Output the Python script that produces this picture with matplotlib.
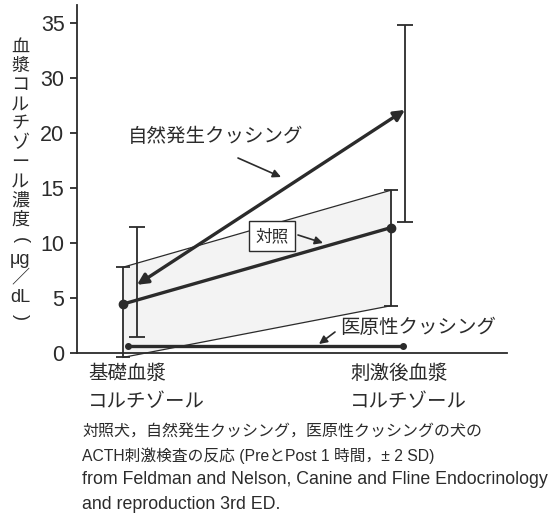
import matplotlib
matplotlib.use("Agg")
import matplotlib.pyplot as plt

plt.rcParams['font.family'] = ['Liberation Sans', 'Noto Sans CJK JP', 'DejaVu Sans']

# values in axis units (the axis is drawn with the labels printed in the source)
stages = ["基礎血漿\nコルチゾール", "刺激後血漿\nコルチゾール"]
ytick_vals = [0, 5, 10, 15, 20, 25, 30]
ytick_labels = ["0", "5", "10", "15", "20", "30", "35"]

ctrl_mean = [4.45, 11.4]
ctrl_upper = [7.8, 14.8]
ctrl_lower = [-0.4, 4.3]

nat_mean = [6.2, 22.1]
nat_upper = [11.45, 29.8]
nat_lower = [1.45, 11.9]

iat_mean = [0.6, 0.6]

ylabel_chars = ["血", "漿", "コ", "ル", "チ", "ゾ", "ー", "ル", "濃", "度",
                "(", "μg", "／", "dL", ")"]
caption = ["対照犬，自然発生クッシング，医原性クッシングの犬の",
           "ACTH刺激検査の反応 (PreとPost 1 時間，± 2 SD)",
           "from Feldman and Nelson, Canine and Fline Endocrinology",
           "and reproduction 3rd ED."]
caption_size = [11.5, 11.3, 12.8, 12.8]

W, H = 559, 519
ink = '#2b2b2b'

fig = plt.figure(figsize=(W / 100, H / 100), dpi=100)
ax = fig.add_axes([77 / W, (H - 353) / H, 430 / W, 348 / H])


def px(x, y):
    return (x, H - y)


x_pre, x_post = 0.0, 1.0
ctrl_x = [x_pre - 0.026, x_post - 0.026]
nat_x = [x_pre + 0.026, x_post + 0.026]
iat_x = [x_pre - 0.007, x_post + 0.019]

# control band
ax.fill_between(ctrl_x, ctrl_lower, ctrl_upper, color='#f3f3f3', lw=0, zorder=0)
ax.plot(ctrl_x, ctrl_upper, color=ink, lw=0.9, clip_on=False)
ax.plot(ctrl_x, ctrl_lower, color=ink, lw=0.9, clip_on=False)
yerr = [[m - lo for m, lo in zip(ctrl_mean, ctrl_lower)],
        [hi - m for m, hi in zip(ctrl_mean, ctrl_upper)]]
eb = ax.errorbar(ctrl_x, ctrl_mean, yerr=yerr, color=ink, lw=2.4, elinewidth=1.3,
                 capsize=5, capthick=1.3, marker='o', ms=6, zorder=3)
for art in eb.get_children():
    art.set_clip_on(False)

# natural cushing
yerr = [[m - lo for m, lo in zip(nat_mean, nat_lower)],
        [hi - m for m, hi in zip(nat_mean, nat_upper)]]
eb = ax.errorbar(nat_x, nat_mean, yerr=yerr, color=ink, lw=0, elinewidth=1.3,
                 capsize=6, capthick=1.3, fmt='none', zorder=3)
ax.annotate('', xy=(nat_x[1], nat_mean[1]), xytext=(nat_x[0], nat_mean[0]),
            arrowprops=dict(arrowstyle='<|-|>', lw=2.4, color=ink,
                            mutation_scale=16, shrinkA=0, shrinkB=0), zorder=4)

# iatrogenic cushing
ax.plot(iat_x, iat_mean, color=ink, lw=2.4, marker='o', ms=4, zorder=3)

ax.set_xlim(-53 / 268, 377 / 268)
ax.set_ylim(0, 348 / 11)
ax.set_yticks(ytick_vals)
ax.set_yticklabels(ytick_labels, fontsize=15.5, color=ink)
ax.set_xticks([])
for s in ['top', 'right']:
    ax.spines[s].set_visible(False)
for s in ['left', 'bottom']:
    ax.spines[s].set_color(ink)
    ax.spines[s].set_linewidth(1.3)
ax.tick_params(axis='y', length=5, width=1.3, color=ink, pad=4)

# category labels
fig.text(88 / W, 1 - 388 / H, stages[0], fontsize=14, color=ink, va='center',
         ha='left', linespacing=1.75)
fig.text(350 / W, 1 - 388 / H, stages[1], fontsize=14, color=ink, va='center',
         ha='left', linespacing=1.75)

# annotations
ax.annotate('自然発生クッシング', xy=px(128, 137), xycoords='figure pixels',
            fontsize=14, color=ink, va='center', ha='left')
ax.annotate('', xy=px(281, 177), xycoords='figure pixels', xytext=px(238, 158),
            textcoords='figure pixels',
            arrowprops=dict(arrowstyle='-|>', lw=1.2, color=ink, mutation_scale=12,
                            shrinkA=0, shrinkB=0))
ax.annotate('対照', xy=px(272, 236), xycoords='figure pixels', fontsize=12,
            color=ink, va='center', ha='center',
            bbox=dict(boxstyle='square,pad=0.4', fc='white', ec=ink, lw=1))
ax.annotate('', xy=px(323, 243), xycoords='figure pixels', xytext=px(298, 235),
            textcoords='figure pixels',
            arrowprops=dict(arrowstyle='-|>', lw=1.2, color=ink, mutation_scale=12,
                            shrinkA=0, shrinkB=0))
ax.annotate('医原性クッシング', xy=px(340, 328), xycoords='figure pixels',
            fontsize=14, color=ink, va='center', ha='left')
ax.annotate('', xy=px(319, 344), xycoords='figure pixels', xytext=px(335, 332),
            textcoords='figure pixels',
            arrowprops=dict(arrowstyle='-|>', lw=1.2, color=ink, mutation_scale=12,
                            shrinkA=0, shrinkB=0))

# stacked vertical y label (brackets turned for vertical writing)
n = len(ylabel_chars)
for i, ch in enumerate(ylabel_chars):
    y = 47 + i * (317 - 47) / (n - 1)
    rot = -90 if ch in "()" else 0
    fig.text(20 / W, 1 - y / H, ch, fontsize=13, color=ink, ha='center',
             va='center', rotation=rot)

# caption
for i, line in enumerate(caption):
    fig.text(82 / W, 1 - (431 + i * 24.5) / H, line, fontsize=caption_size[i],
             color=ink, ha='left', va='center')

fig.savefig('out.png', dpi=100)
